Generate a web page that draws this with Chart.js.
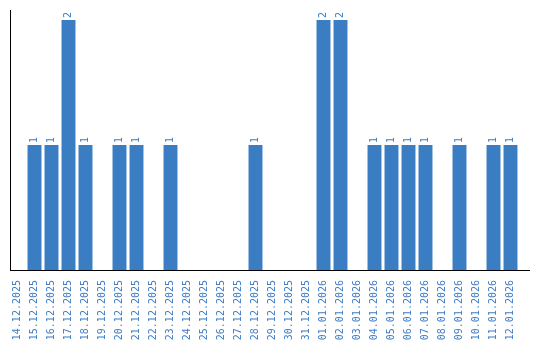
<!DOCTYPE html>
<html>
<head>
<meta charset="utf-8">
<script src="https://cdn.jsdelivr.net/npm/chart.js@4"></script>
<style>
  body { margin: 0; background: #fff; }
  canvas { display: block; }
</style>
</head>
<body>
<canvas id="chart" width="540" height="340"></canvas>
<script>
// Dates and counts
const dates = [
    '14.12.2025', '15.12.2025', '16.12.2025', '17.12.2025', '18.12.2025',
    '19.12.2025', '20.12.2025', '21.12.2025', '22.12.2025', '23.12.2025',
    '24.12.2025', '25.12.2025', '26.12.2025', '27.12.2025', '28.12.2025',
    '29.12.2025', '30.12.2025', '31.12.2025', '01.01.2026', '02.01.2026',
    '03.01.2026', '04.01.2026', '05.01.2026', '06.01.2026', '07.01.2026',
    '08.01.2026', '09.01.2026', '10.01.2026', '11.01.2026', '12.01.2026'
];
const counts = [0, 1, 1, 2, 1, 0, 1, 1, 0, 1, 0, 0, 0, 0, 1, 0, 0, 0, 2, 2, 0, 1, 1, 1, 1, 0, 1, 0, 1, 1];

const barColor = '#3b7dc3';
const textColor = '#3d7dc6';

// Draw the rotated value above each bar
const valueLabels = {
    id: 'valueLabels',
    afterDatasetsDraw(chart) {
        const ctx = chart.ctx;
        const meta = chart.getDatasetMeta(0);
        ctx.save();
        ctx.fillStyle = textColor;
        ctx.font = '10px "DejaVu Sans Mono"';
        ctx.textAlign = 'left';
        ctx.textBaseline = 'middle';
        meta.data.forEach((bar, i) => {
            if (!counts[i]) return;
            ctx.save();
            ctx.translate(bar.x, bar.y - 2);
            ctx.rotate(-Math.PI / 2);
            ctx.fillText(String(counts[i]), 0, 0);
            ctx.restore();
        });
        ctx.restore();
    }
};

// Plain black axis lines
const axisLines = {
    id: 'axisLines',
    afterDraw(chart) {
        const ctx = chart.ctx;
        const area = chart.chartArea;
        ctx.save();
        ctx.strokeStyle = '#000';
        ctx.lineWidth = 1;
        ctx.beginPath();
        ctx.moveTo(10.5, area.top);
        ctx.lineTo(10.5, area.bottom + 0.5);
        ctx.moveTo(10, area.bottom + 0.5);
        ctx.lineTo(530, area.bottom + 0.5);
        ctx.stroke();
        ctx.restore();
    }
};

new Chart(document.getElementById('chart'), {
    type: 'bar',
    data: {
        labels: dates,
        datasets: [{
            data: counts,
            backgroundColor: barColor,
            barPercentage: 0.82,
            categoryPercentage: 1
        }]
    },
    options: {
        responsive: false,
        animation: false,
        layout: { padding: { left: 9, right: 21, top: 10, bottom: 0 } },
        plugins: { legend: { display: false }, tooltip: { enabled: false } },
        scales: {
            x: {
                grid: { display: false },
                border: { display: false },
                ticks: {
                    color: textColor,
                    font: { family: 'DejaVu Sans Mono', size: 10 },
                    minRotation: 90,
                    maxRotation: 90,
                    autoSkip: false,
                    padding: 2
                },
                afterFit(scale) { scale.height = 70; }
            },
            y: {
                display: false,
                min: 0,
                max: 2.08
            }
        }
    },
    plugins: [valueLabels, axisLines]
});
</script>
</body>
</html>
